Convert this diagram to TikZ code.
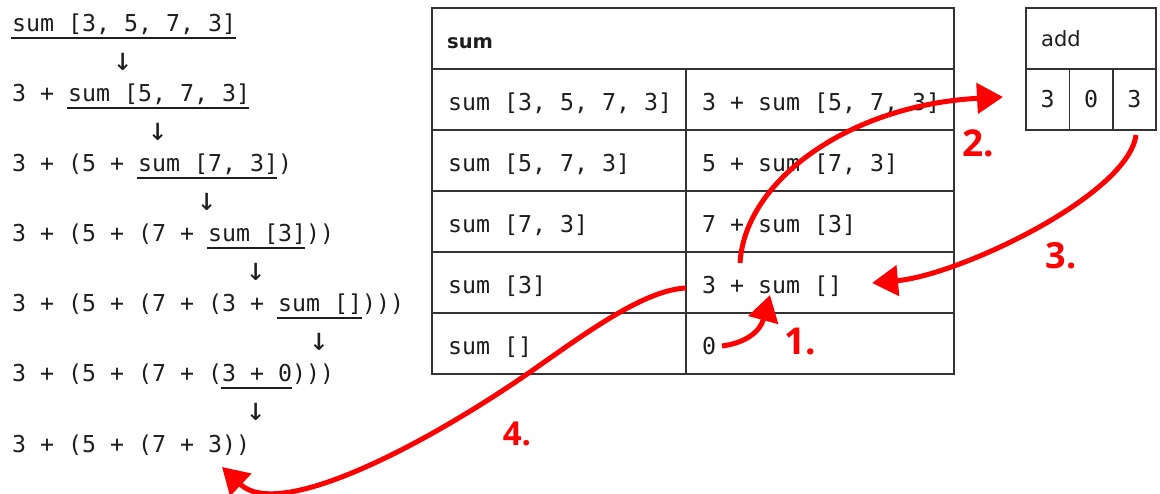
\documentclass[tikz,border=0pt]{standalone}
\usepackage{fontspec}
\setmonofont{DejaVu Sans Mono}
\newfontfamily\hdrfont{DejaVu Sans}
\newfontfamily\lblfont{Open Sans}
\usetikzlibrary{arrows.meta}
\definecolor{ink}{HTML}{1E1E1E}
\definecolor{gridc}{HTML}{333333}
\definecolor{redarrow}{HTML}{FF0000}
\tikzset{
  code/.style={inner sep=0pt, anchor=base west, text=ink, font=\ttfamily\fontsize{23.25}{28}\selectfont},
  codec/.style={inner sep=0pt, anchor=base, text=ink, font=\ttfamily\fontsize{23.25}{28}\selectfont},
  downarr/.style={inner sep=0pt, anchor=center, text=ink, font=\ttfamily\fontsize{32}{36}\selectfont},
  hdr/.style={inner sep=0pt, anchor=base west, text=ink, font=\hdrfont\fontsize{21}{25}\selectfont},
  uline/.style={draw=ink, line width=2.6pt},
  gridline/.style={draw=gridc, line width=1.6pt},
  redarr/.style={draw=redarrow, line width=5pt, -{Triangle[length=26pt,width=30pt]}},
  steplabel/.style={inner sep=0pt, anchor=center, text=redarrow, font=\lblfont\bfseries\fontsize{#1}{#1}\selectfont},
}
\begin{document}
\begin{tikzpicture}[x=1pt,y=-1pt]
\useasboundingbox (0,0) rectangle (1160,494);
\fill[white] (0,0) rectangle (1160,494);

% ---- left derivation ----
\node[code] (l1) at (12,32)  {sum [3, 5, 7, 3]};
\node[code] (l2) at (12,102) {3 + sum [5, 7, 3]};
\node[code] (l3) at (12,172) {3 + (5 + sum [7, 3])};
\node[code] (l4) at (12,242) {3 + (5 + (7 + sum [3]))};
\node[code] (l5) at (12,312) {3 + (5 + (7 + (3 + sum [])))};
\node[code] (l6) at (12,382) {3 + (5 + (7 + (3 + 0)))};
\node[code] (l7) at (12,452) {3 + (5 + (7 + 3))};

\draw[uline] (11,38)  -- (236,38);
\draw[uline] (67,108) -- (249,108);
\draw[uline] (137,178) -- (277,178);
\draw[uline] (207,248) -- (305,248);
\draw[uline] (277,318) -- (362,318);
\draw[uline] (221,388) -- (292,388);

\node[downarr] (d1) at (122.7,62)  {↓};
\node[downarr] (d2) at (157.7,132) {↓};
\node[downarr] (d3) at (206.7,202) {↓};
\node[downarr] (d4) at (255.7,272) {↓};
\node[downarr] (d5) at (319,342)   {↓};
\node[downarr] (d6) at (255.7,412) {↓};

% ---- sum table ----
\draw[gridline] (432,8) rectangle (954,374);
\foreach \yy in {69,130,191,252,313} \draw[gridline] (432,\yy) -- (954,\yy);
\draw[gridline] (686,69) -- (686,374);

\node[hdr, font=\hdrfont\bfseries\fontsize{19.5}{24}\selectfont] (sumhdr) at (447,49) {sum};
\node[code] (t1a) at (448,111) {sum [3, 5, 7, 3]};
\node[code] (t2a) at (448,172) {sum [5, 7, 3]};
\node[code] (t3a) at (448,233) {sum [7, 3]};
\node[code] (t4a) at (448,294) {sum [3]};
\node[code] (t5a) at (448,355) {sum []};
\node[code] (t1b) at (702,111) {3 + sum [5, 7, 3]};
\node[code] (t2b) at (702,172) {5 + sum [7, 3]};
\node[code] (t3b) at (702,233) {7 + sum [3]};
\node[code] (t4b) at (702,294) {3 + sum []};
\node[code] (t5b) at (702,355) {0};

% ---- add box ----
\draw[gridline] (1026,8) rectangle (1156,130);
\draw[gridline] (1026,69) -- (1156,69);
\draw[gridline] (1069.3,69) -- (1069.3,130);
\draw[gridline] (1112.7,69) -- (1112.7,130);
\node[hdr] (addhdr) at (1041,47) {add};
\node[codec] (c1) at (1047.7,108) {3};
\node[codec] (c2) at (1091,108)   {0};
\node[codec] (c3) at (1134.3,108) {3};

% ---- red arrows ----
\coordinate (a1s) at (722,346);
\coordinate (a1e) at (770,295);
\coordinate (a2s) at (740,263);
\coordinate (a2e) at (1003,97);
\coordinate (a3s) at (1136,135);
\coordinate (a3e) at (872,283);
\coordinate (a4s) at (686,288);
\coordinate (a4m) at (533,370);
\coordinate (a4e) at (222,467);

\draw[redarr] (a1s) .. controls (745,343) and (760,332) .. (a1e);
\draw[redarr] (a2s) .. controls (745,180) and (850,105) .. (a2e);
\draw[redarr] (a3s) .. controls (1128,195) and (960,275) .. (a3e);
\draw[redarr] (a4s) .. controls (645,290) and (590,330) .. (a4m)
                    .. controls (430,442) and (280,522) .. (a4e);

\node[steplabel=37] (n1) at (800,342)  {1.};
\node[steplabel=37] (n2) at (978,143)  {2.};
\node[steplabel=36] (n3) at (1061,255.5) {3.};
\node[steplabel=33] (n4) at (517,434)  {4.};
\end{tikzpicture}
\end{document}
